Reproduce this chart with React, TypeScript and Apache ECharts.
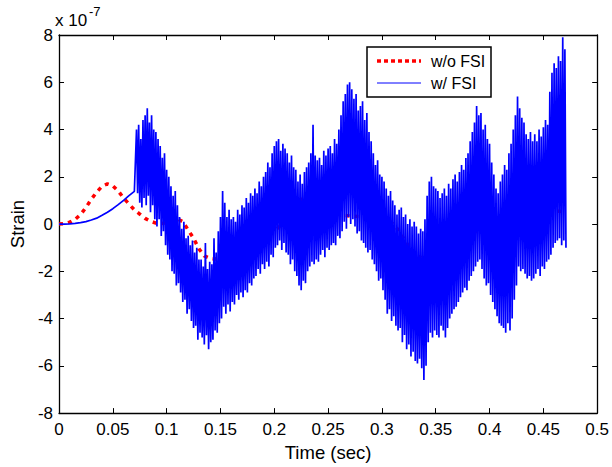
import React, { useEffect, useRef } from "react";
import * as echarts from "echarts";

const FONT = "'Liberation Sans', Arial, Helvetica, sans-serif";

// Axis settings (values in units of 1e-7)
const xMin = 0;
const xMax = 0.5;
const xStep = 0.05;
const yMin = -8;
const yMax = 8;
const yStep = 2;

const xLabel = "Time (sec)";
const yLabel = "Strain";
const seriesNames = ["w/o FSI", "w/ FSI"];

// w/o FSI (red dotted)
const redTimes = [
  0, 0.005, 0.01, 0.015, 0.02, 0.025, 0.03, 0.035, 0.04, 0.045, 0.05, 0.055, 0.06, 0.065,
  0.07, 0.075, 0.08, 0.085, 0.09, 0.095, 0.1, 0.105, 0.11, 0.115, 0.12, 0.125, 0.13, 0.135,
  0.14, 0.145, 0.15, 0.16, 0.17, 0.18, 0.19, 0.2, 0.21, 0.22, 0.228, 0.235, 0.245, 0.255,
  0.266, 0.274, 0.285, 0.295, 0.303, 0.308, 0.313, 0.318, 0.323, 0.328, 0.333, 0.339, 0.345,
  0.355, 0.365, 0.375, 0.385, 0.395, 0.405, 0.408, 0.415, 0.422, 0.43, 0.44, 0.45, 0.46, 0.47,
];
const redValues = [
  0, 0.02, 0.08, 0.2, 0.4, 0.7, 1.05, 1.35, 1.6, 1.7, 1.62, 1.4, 1.1, 0.85,
  0.6, 0.42, 0.24, 0.12, 0.04, 0.02, 0.06, 0.15, 0.22, 0.1, -0.25, -0.6, -1.05, -1.35,
  -1.45, -1.48, -1.4, -1.1, -0.8, -0.6, -0.45, -0.3, 0.1, 0.7, 1.2, 1.1, 0.7, 0.45,
  0.36, 0.33, 0.3, 0.25, 0.18, 0.1, -0.12, -0.45, -0.82, -1.1, -1.37, -1.45, -1.4,
  -1.1, -0.8, -0.55, -0.35, -0.2, -0.05, 0, 0.6, 1.3, 1.2, 0.9, 0.7, 0.58, 0.5,
];

// w/ FSI (blue): smooth beginning
const blueSmoothTimes = [
  0, 0.005, 0.01, 0.015, 0.02, 0.025, 0.03, 0.035, 0.04, 0.045, 0.05, 0.055, 0.06, 0.065, 0.07,
];
const blueSmoothValues = [
  0, 0, 0.01, 0.03, 0.06, 0.1, 0.17, 0.25, 0.37, 0.5, 0.65, 0.82, 1.0, 1.2, 1.38,
];

// w/ FSI (blue): oscillating part, sampled every 0.001 s starting at 0.072 s
const blueOscStart = 0.072;
const blueOscStep = 0.001;
const blueOscValues = [
  4.0, 1.3, 4.2, 0.9, 3.6, 0.7, 4.4, 1.1, 4.6, 0.8,
  4.9, 1.2, 4.3, 0.5, 4.6, 0.8, 4.0, 0.2, 3.9, -0.1,
  3.6, 0.2, 3.3, -0.5, 2.8, -0.3, 3.0, -0.9, 2.3, -1.3,
  2.0, -1.5, 1.6, -2.0, 1.2, -2.1, 1.4, -2.6, 0.8, -2.5,
  0.3, -2.9, -0.2, -3.3, 0.1, -3.2, -0.6, -3.8, -0.5, -3.6,
  -0.9, -4.1, -0.7, -4.4, -1.2, -4.3, -1.0, -4.9, -1.5, -4.6,
  -1.5, -4.8, -1.8, -5.1, -0.8, -4.7, -1.9, -5.3, -1.6, -5.0,
  -1.7, -4.9, -0.6, -4.5, -1.2, -4.6, -0.3, -4.2, 0.3, -4.0,
  1.4, -3.5, 0.9, -3.8, 0.3, -3.4, 0.6, -3.7, 0.2, -3.3,
  0.3, -3.4, 0.1, -3.0, 0.6, -3.2, 0.4, -2.9, 0.8, -3.1,
  0.7, -2.8, 1.1, -2.9, 0.9, -2.5, 1.3, -2.6, 1.2, -2.3,
  1.5, -2.2, 1.3, -1.9, 1.8, -2.1, 1.6, -1.7, 2.0, -1.9,
  2.2, -1.6, 2.6, -1.8, 2.4, -1.3, 3.0, -1.4, 3.3, -1.0,
  3.5, -0.9, 3.6, -0.7, 3.1, -1.1, 3.4, -0.8, 3.2, -1.2,
  3.0, -1.3, 2.6, -1.7, 2.9, -1.5, 2.4, -2.0, 2.3, -2.2,
  1.8, -2.6, 2.1, -2.8, 1.7, -2.4, 2.2, -2.5, 2.4, -2.0,
  2.6, -1.8, 3.0, -1.6, 4.2, -1.7, 2.9, -1.5, 2.7, -1.6,
  2.8, -1.3, 2.5, -1.1, 3.1, -1.4, 2.9, -1.0, 3.2, -1.1,
  3.3, -0.9, 3.0, -0.8, 3.6, -0.9, 3.4, -0.5, 4.0, -0.6,
  4.6, -0.3, 5.2, 0.1, 5.5, -0.2, 5.9, 0.3, 6.0, 0.0,
  5.7, 0.2, 5.3, -0.1, 5.5, -0.4, 4.8, -0.3, 5.0, -0.7,
  5.2, -0.8, 4.4, -1.0, 4.7, -1.2, 3.9, -1.1, 3.5, -1.5,
  3.0, -1.7, 2.5, -2.0, 2.7, -2.4, 2.1, -2.3, 2.0, -2.8,
  1.8, -3.2, 1.5, -3.8, 1.2, -3.6, 1.4, -4.1, 1.0, -3.9,
  0.8, -4.3, 0.4, -4.5, 0.6, -4.4, 0.7, -5.0, 0.3, -4.7,
  0.4, -5.3, 0.0, -5.1, 0.2, -5.6, -0.1, -5.4, 0.1, -5.8,
  -0.1, -5.9, -0.4, -5.7, -0.2, -6.1, -0.3, -6.6, 0.2, -6.0,
  1.2, -5.0, 1.8, -4.6, 2.0, -4.8, 1.6, -4.5, 1.5, -4.7,
  1.4, -4.8, 1.1, -4.3, 1.3, -4.5, 1.5, -4.8, 1.2, -4.4,
  1.7, -4.0, 1.5, -3.8, 1.9, -3.6, 2.1, -3.5, 1.8, -3.3,
  2.2, -3.1, 2.5, -2.9, 2.3, -2.7, 2.8, -2.8, 3.0, -2.4,
  3.5, -2.2, 3.9, -2.0, 4.3, -1.8, 5.0, -1.6, 4.6, -1.5,
  4.7, -1.9, 4.0, -2.3, 4.2, -2.6, 3.6, -2.5, 3.4, -3.0,
  2.6, -3.3, 2.1, -3.6, 1.5, -3.9, 1.3, -4.2, 1.8, -4.3,
  2.1, -4.4, 2.5, -4.6, 2.3, -4.2, 3.0, -4.5, 3.4, -4.0,
  4.0, -3.2, 4.6, -2.6, 5.4, -1.8, 4.9, -2.0, 4.5, -1.9,
  4.3, -2.1, 3.8, -2.3, 3.6, -2.2, 3.9, -2.4, 3.5, -2.3,
  3.8, -2.1, 3.5, -1.9, 4.0, -2.2, 3.7, -1.8, 4.1, -1.9,
  4.4, -1.6, 4.2, -1.5, 5.6, -1.3, 6.4, -1.0, 6.8, -0.8,
  6.6, -0.7, 7.1, -0.6, 6.9, -0.9, 7.9, -0.7, 7.4, -1.0,
];

export default function App() {
  const ref = useRef<HTMLDivElement>(null);

  useEffect(() => {
    if (!ref.current) return;
    const chart = echarts.init(ref.current, null, { renderer: "svg" });

    const redData = redTimes.map((t, i) => [t, redValues[i]]);
    const blueData: number[][] = blueSmoothTimes.map((t, i) => [t, blueSmoothValues[i]]);
    blueOscValues.forEach((v, i) => {
      blueData.push([+(blueOscStart + i * blueOscStep).toFixed(4), v]);
    });

    const axisLine = { show: true, onZero: false, lineStyle: { color: "#000", width: 1.3 } };
    const tick = { show: true, inside: true, length: 5, lineStyle: { color: "#000", width: 1 } };
    const labelStyle = { color: "#000", fontSize: 17, fontFamily: FONT };

    chart.setOption({
      animation: false,
      backgroundColor: "#fff",
      grid: { left: 55, right: 14, top: 35, bottom: 46, containLabel: false },
      xAxis: [
        {
          type: "value",
          min: xMin,
          max: xMax,
          interval: xStep,
          position: "bottom",
          axisLine,
          axisTick: tick,
          splitLine: { show: false },
          axisLabel: { ...labelStyle, margin: 8 },
          name: xLabel,
          nameLocation: "middle",
          nameGap: 29,
          nameTextStyle: { color: "#000", fontSize: 18.5, fontFamily: FONT },
        },
        {
          type: "value",
          min: xMin,
          max: xMax,
          interval: xStep,
          position: "top",
          axisLine,
          axisTick: tick,
          splitLine: { show: false },
          axisLabel: { show: false },
        },
      ],
      yAxis: [
        {
          type: "value",
          min: yMin,
          max: yMax,
          interval: yStep,
          position: "left",
          axisLine,
          axisTick: tick,
          splitLine: { show: false },
          axisLabel: { ...labelStyle, margin: 6 },
          name: yLabel,
          nameLocation: "middle",
          nameGap: 26,
          nameTextStyle: { color: "#000", fontSize: 18.5, fontFamily: FONT },
        },
        {
          type: "value",
          min: yMin,
          max: yMax,
          interval: yStep,
          position: "right",
          axisLine,
          axisTick: tick,
          splitLine: { show: false },
          axisLabel: { show: false },
        },
      ],
      series: [
        {
          type: "line",
          name: seriesNames[0],
          data: redData,
          symbol: "none",
          showSymbol: false,
          xAxisIndex: 0,
          yAxisIndex: 0,
          lineStyle: { color: "#ff0000", width: 3.5, type: [4, 5], cap: "butt" },
          z: 2,
        },
        {
          type: "line",
          name: seriesNames[1],
          data: blueData,
          symbol: "none",
          showSymbol: false,
          xAxisIndex: 0,
          yAxisIndex: 0,
          lineStyle: { color: "#0000ff", width: 1.7 },
          z: 3,
        },
      ],
      graphic: [
        {
          type: "text",
          left: 55,
          top: 12,
          style: { text: "x 10", fontSize: 17, fontFamily: FONT, fill: "#000" },
          z: 10,
        },
        {
          type: "text",
          left: 89,
          top: 5,
          style: { text: "-7", fontSize: 13, fontFamily: FONT, fill: "#000" },
          z: 10,
        },
        {
          type: "rect",
          shape: { x: 367, y: 47, width: 124, height: 50 },
          style: { fill: "#fff", stroke: "#000", lineWidth: 1.5 },
          z: 20,
        },
        {
          type: "line",
          shape: { x1: 377, y1: 61, x2: 421, y2: 61 },
          style: { stroke: "#ff0000", lineWidth: 3.5, lineDash: [4, 3] },
          z: 21,
        },
        {
          type: "line",
          shape: { x1: 377, y1: 83, x2: 421, y2: 83 },
          style: { stroke: "#0000ff", lineWidth: 1 },
          z: 21,
        },
        {
          type: "text",
          x: 431,
          y: 61,
          style: {
            text: seriesNames[0],
            fontSize: 16,
            fontFamily: FONT,
            fill: "#000",
            verticalAlign: "middle",
          },
          z: 21,
        },
        {
          type: "text",
          x: 431,
          y: 83,
          style: {
            text: seriesNames[1],
            fontSize: 16,
            fontFamily: FONT,
            fill: "#000",
            verticalAlign: "middle",
          },
          z: 21,
        },
      ],
    });

    return () => chart.dispose();
  }, []);

  return <div ref={ref} style={{ width: 612, height: 467, position: "fixed", left: 0, top: 0 }} />;
}
